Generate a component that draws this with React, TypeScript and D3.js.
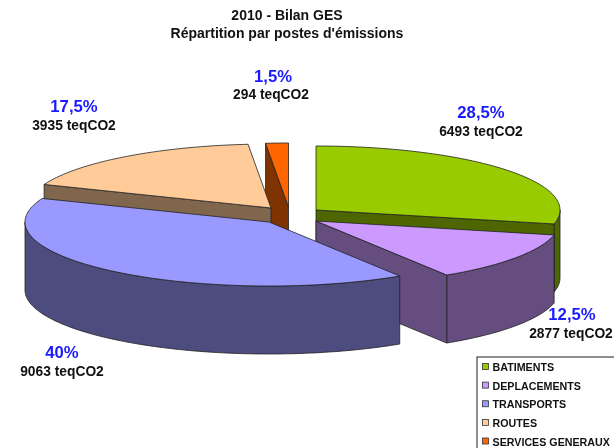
import React from 'react'
import * as d3 from 'd3'

// Data
const categories = ['BATIMENTS', 'DEPLACEMENTS', 'TRANSPORTS', 'ROUTES', 'SERVICES GENERAUX']
const shares = [28.5, 12.5, 40, 17.5, 1.5]
const shareLabels = ['28,5%', '12,5%', '40%', '17,5%', '1,5%']
const tonnes = [6493, 2877, 9063, 3935, 294]
const titleLines = ['2010 - Bilan GES', "Répartition par postes d'émissions"]

const topColors = ['#99cc00', '#cc99ff', '#9999ff', '#ffcc99', '#ff6600']
const sideColors = ['#4d6600', '#654d7f', '#4c4c7f', '#7f664c', '#7f3300']

// Each slice is pulled out of the pie on its own
const sliceCentres: [number, number][] = [[316, 210], [316, 221], [269, 222], [271, 208], [288.5, 207]]
const labelPositions: [number, number, number, number][] = [
  [481, 118, 481, 136],
  [572, 320, 571, 338],
  [62, 358, 62, 376],
  [74, 112, 74, 130],
  [273, 82, 271, 99],
]
// back to front
const drawOrder = [0, 4, 3, 1, 2]

const rx = 244
const ry = 64
const depth = 68

const App: React.FC = () => {
  const slices = d3.pie<number>().sort(null)(shares)
  const toX = d3.scaleLinear().domain([-1, 1]).range([-rx, rx])
  const toY = d3.scaleLinear().domain([-1, 1]).range([-ry, ry])
  const rimPoint = (a: number): [number, number] => [toX(Math.sin(a)), toY(-Math.cos(a))]
  const line = d3.line()

  const arcPoints = (a0: number, a1: number) => {
    const steps = Math.max(2, Math.ceil((a1 - a0) / 0.02))
    return d3.range(steps + 1).map(i => rimPoint(a0 + ((a1 - a0) * i) / steps))
  }

  // Top face of a slice
  const topPath = (a0: number, a1: number) => line([[0, 0], ...arcPoints(a0, a1)]) + 'Z'

  // Outer wall, only the part that faces the viewer (90deg to 270deg)
  const rimPath = (a0: number, a1: number) => {
    const from = Math.max(a0, Math.PI / 2)
    const to = Math.min(a1, (3 * Math.PI) / 2)
    if (from >= to) return null
    const upper = arcPoints(from, to)
    const lower = upper.map(([x, y]) => [x, y + depth] as [number, number]).reverse()
    return line([...upper, ...lower]) + 'Z'
  }

  // Flat cut face along one radius
  const cutPath = (a: number) => {
    const [x, y] = rimPoint(a)
    return line([[0, 0], [x, y], [x, y + depth], [0, depth]]) + 'Z'
  }

  // A cut face shows only when it turns towards the viewer
  const cutFaces = (a0: number, a1: number) => {
    const faces: string[] = []
    if (Math.sin(a0) < -1e-6) faces.push(cutPath(a0))
    if (Math.sin(a1) > 1e-6) faces.push(cutPath(a1))
    return faces
  }

  const legendRows = d3.scalePoint<string>().domain(categories).range([367, 441.5])

  return (
    <svg
      width={614}
      height={448}
      style={{ position: 'absolute', left: 0, top: 0, background: '#fff', filter: 'blur(0.35px)' }}
      fontFamily="'Liberation Sans', Arial, sans-serif"
    >
      <g fontWeight="bold" fontSize={14} textAnchor="middle" fill="#111">
        {titleLines.map((t, i) => (
          <text key={t} x={287} y={19.5 + i * 18}>{t}</text>
        ))}
      </g>

      {drawOrder.map(i => {
        const s = slices[i]
        const [cx, cy] = sliceCentres[i]
        const rim = rimPath(s.startAngle, s.endAngle)
        return (
          <g key={categories[i]} transform={`translate(${cx},${cy})`} stroke="#222" strokeWidth={0.8} strokeLinejoin="round">
            {rim && <path d={rim} fill={sideColors[i]} />}
            {cutFaces(s.startAngle, s.endAngle).map(d => <path key={d} d={d} fill={sideColors[i]} />)}
            <path d={topPath(s.startAngle, s.endAngle)} fill={topColors[i]} />
          </g>
        )
      })}

      {categories.map((c, i) => {
        const [px, py, vx, vy] = labelPositions[i]
        return (
          <g key={c} fontWeight="bold" textAnchor="middle">
            <text x={px} y={py} fontSize={16.7} fill="#1a1aff">{shareLabels[i]}</text>
            <text x={vx} y={vy} fontSize={13.8} fill="#111">{tonnes[i]} teqCO2</text>
          </g>
        )
      })}

      <rect x={477} y={357} width={150} height={100} fill="#fff" stroke="#444" strokeWidth={1.2} />
      {categories.map((c, i) => {
        const y = legendRows(c) as number
        return (
          <g key={c}>
            <rect x={482.5} y={y - 3.5} width={6} height={6} fill={topColors[i]} stroke="#333" strokeWidth={0.8} />
            <text x={492.5} y={y + 4} fontSize={10.7} fontWeight="bold" fill="#111">{c}</text>
          </g>
        )
      })}
    </svg>
  )
}

export default App
